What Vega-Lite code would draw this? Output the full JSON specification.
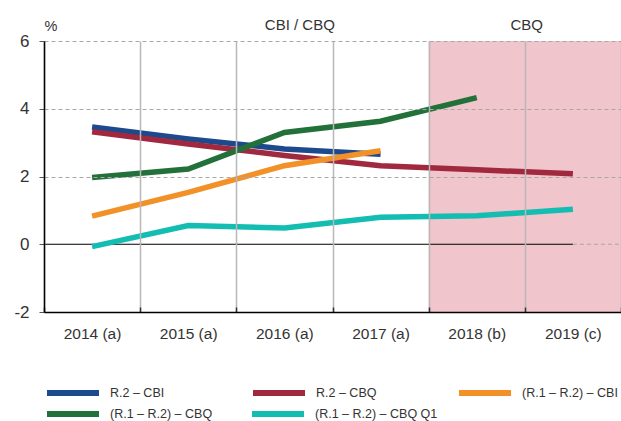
{
  "$schema": "https://vega.github.io/schema/vega-lite/v6.json",
  "width": 577,
  "height": 271,
  "autosize": {"type": "none"},
  "padding": {"left": 44, "top": 41, "right": 0, "bottom": 109},
  "background": "white",
  "config": {
    "view": {"stroke": null},
    "font": "Liberation Sans",
    "axis": {"labelColor": "#333333", "titleColor": "#333333", "labelFont": "Liberation Sans", "titleFont": "Liberation Sans"},
    "legend": {
      "title": null,
      "orient": "none",
      "legendX": 0,
      "direction": "horizontal",
      "columns": 3,
      "symbolType": "stroke",
      "symbolSize": 2704,
      "symbolStrokeWidth": 6,
      "labelFont": "Liberation Sans",
      "labelFontSize": 12.5,
      "labelColor": "#333333",
      "labelOffset": 8,
      "labelLimit": 200
    }
  },
  "datasets": {
    "seriesA": [
      {"i": 0, "s": "R.2 – CBI", "v": 3.46},
      {"i": 1, "s": "R.2 – CBI", "v": 3.11},
      {"i": 2, "s": "R.2 – CBI", "v": 2.81},
      {"i": 3, "s": "R.2 – CBI", "v": 2.66},
      {"i": 0, "s": "R.2 – CBQ", "v": 3.32},
      {"i": 1, "s": "R.2 – CBQ", "v": 2.96},
      {"i": 2, "s": "R.2 – CBQ", "v": 2.62},
      {"i": 3, "s": "R.2 – CBQ", "v": 2.32},
      {"i": 4, "s": "R.2 – CBQ", "v": 2.2},
      {"i": 5, "s": "R.2 – CBQ", "v": 2.08},
      {"i": 0, "s": "(R.1 – R.2) – CBI", "v": 0.83},
      {"i": 1, "s": "(R.1 – R.2) – CBI", "v": 1.53},
      {"i": 2, "s": "(R.1 – R.2) – CBI", "v": 2.32},
      {"i": 3, "s": "(R.1 – R.2) – CBI", "v": 2.76}
    ],
    "seriesB": [
      {"i": 0, "t": "(R.1 – R.2) – CBQ", "v": 1.97},
      {"i": 1, "t": "(R.1 – R.2) – CBQ", "v": 2.22},
      {"i": 2, "t": "(R.1 – R.2) – CBQ", "v": 3.3},
      {"i": 3, "t": "(R.1 – R.2) – CBQ", "v": 3.63},
      {"i": 4, "t": "(R.1 – R.2) – CBQ", "v": 4.33},
      {"i": 0, "t": "(R.1 – R.2) – CBQ Q1", "v": -0.07},
      {"i": 1, "t": "(R.1 – R.2) – CBQ Q1", "v": 0.55},
      {"i": 2, "t": "(R.1 – R.2) – CBQ Q1", "v": 0.48},
      {"i": 3, "t": "(R.1 – R.2) – CBQ Q1", "v": 0.8},
      {"i": 4, "t": "(R.1 – R.2) – CBQ Q1", "v": 0.84},
      {"i": 5, "t": "(R.1 – R.2) – CBQ Q1", "v": 1.03}
    ]
  },
  "layer": [
    {
      "data": {"values": [{"a": 3.5, "b": 5.5}]},
      "mark": {"type": "rect", "color": "#f0c5cb"},
      "encoding": {
        "x": {"field": "a", "type": "quantitative", "scale": {"domain": [-0.5, 5.5], "nice": false, "zero": false},
          "axis": {
            "values": [-0.5, 0.5, 1.5, 2.5, 3.5, 4.5, 5.5],
            "title": null,
            "labelExpr": "['2014 (a)','2015 (a)','2016 (a)','2017 (a)','2018 (b)','2019 (c)',''][round(datum.value + 0.5)]",
            "labelOffset": 48,
            "labelFlush": false,
            "labelOverlap": false,
            "labelBound": false,
            "labelFontSize": 15.5,
            "labelPadding": 19,
            "grid": true,
            "gridColor": "#b8b8b8",
            "gridWidth": 1.5,
            "domainColor": "#000000",
            "domainWidth": 1.5,
            "tickColor": "#333333",
            "tickSize": -5,
            "tickWidth": 1.5,
            "zindex": 1
          }
        },
        "x2": {"field": "b"}
      }
    },
    {
      "data": {"values": [{"a": -0.5, "b": 5, "y": 0}]},
      "mark": {"type": "rule", "color": "#000000", "strokeWidth": 1.2},
      "encoding": {
        "x": {"field": "a", "type": "quantitative"},
        "x2": {"field": "b"},
        "y": {"field": "y", "type": "quantitative"}
      }
    },
    {
      "data": {"values": [{"a": 5, "b": 5.5, "y": 0}]},
      "mark": {"type": "rule", "color": "#a8a8a8", "strokeWidth": 1.2, "strokeDash": [4, 3]},
      "encoding": {
        "x": {"field": "a", "type": "quantitative"},
        "x2": {"field": "b"},
        "y": {"field": "y", "type": "quantitative"}
      }
    },
    {
      "data": {"name": "seriesA"},
      "mark": {"type": "line", "strokeWidth": 5.5, "strokeCap": "butt"},
      "encoding": {
        "x": {"field": "i", "type": "quantitative"},
        "y": {"field": "v", "type": "quantitative", "scale": {"domain": [-2, 6], "nice": false, "zero": false},
          "axis": {
            "values": [-2, 0, 2, 4, 6],
            "labelExpr": "'' + datum.value",
            "title": "%",
            "titleAngle": 0,
            "titleAlign": "left",
            "titleBaseline": "alphabetic",
            "titleX": 0,
            "titleY": -11,
            "titleFontSize": 14.5,
            "titleFontWeight": "normal",
            "labelFontSize": 17,
            "labelPadding": 10,
            "grid": true,
            "gridDash": [4, 3],
            "gridColor": "#a8a8a8",
            "gridOpacity": {"condition": {"test": "datum.value === 0", "value": 0}, "value": 1},
            "gridWidth": 1.2,
            "domainColor": "#000000",
            "domainWidth": 1.5,
            "tickColor": "#555555",
            "tickSize": 5,
            "zindex": 1
          }
        },
        "color": {
          "field": "s",
          "type": "nominal",
          "sort": ["R.2 – CBI", "R.2 – CBQ", "(R.1 – R.2) – CBI"],
          "scale": {
            "domain": ["R.2 – CBI", "R.2 – CBQ", "(R.1 – R.2) – CBI"],
            "range": ["#1d4a8c", "#a0283f", "#f29128"]
          },
          "legend": {
            "legendY": 323,
            "gridAlign": "all",
            "columnPadding": 35
          }
        }
      }
    },
    {
      "data": {"name": "seriesB"},
      "mark": {"type": "line", "strokeWidth": 5.5, "strokeCap": "butt"},
      "encoding": {
        "x": {"field": "i", "type": "quantitative"},
        "y": {"field": "v", "type": "quantitative"},
        "stroke": {
          "field": "t",
          "type": "nominal",
          "sort": ["(R.1 – R.2) – CBQ", "(R.1 – R.2) – CBQ Q1"],
          "scale": {
            "domain": ["(R.1 – R.2) – CBQ", "(R.1 – R.2) – CBQ Q1"],
            "range": ["#22703a", "#14bdb1"]
          },
          "legend": {
            "legendY": 344,
            "gridAlign": "each",
            "columnPadding": 27
          }
        }
      }
    },
    {
      "data": {"values": [{"i": 2.16, "y": 6, "t": "CBI / CBQ"}, {"i": 4.52, "y": 6, "t": "CBQ"}]},
      "mark": {"type": "text", "fontSize": 15, "color": "#333333", "baseline": "alphabetic", "dy": -11},
      "encoding": {
        "x": {"field": "i", "type": "quantitative"},
        "y": {"field": "y", "type": "quantitative"},
        "text": {"field": "t"}
      }
    }
  ]
}
